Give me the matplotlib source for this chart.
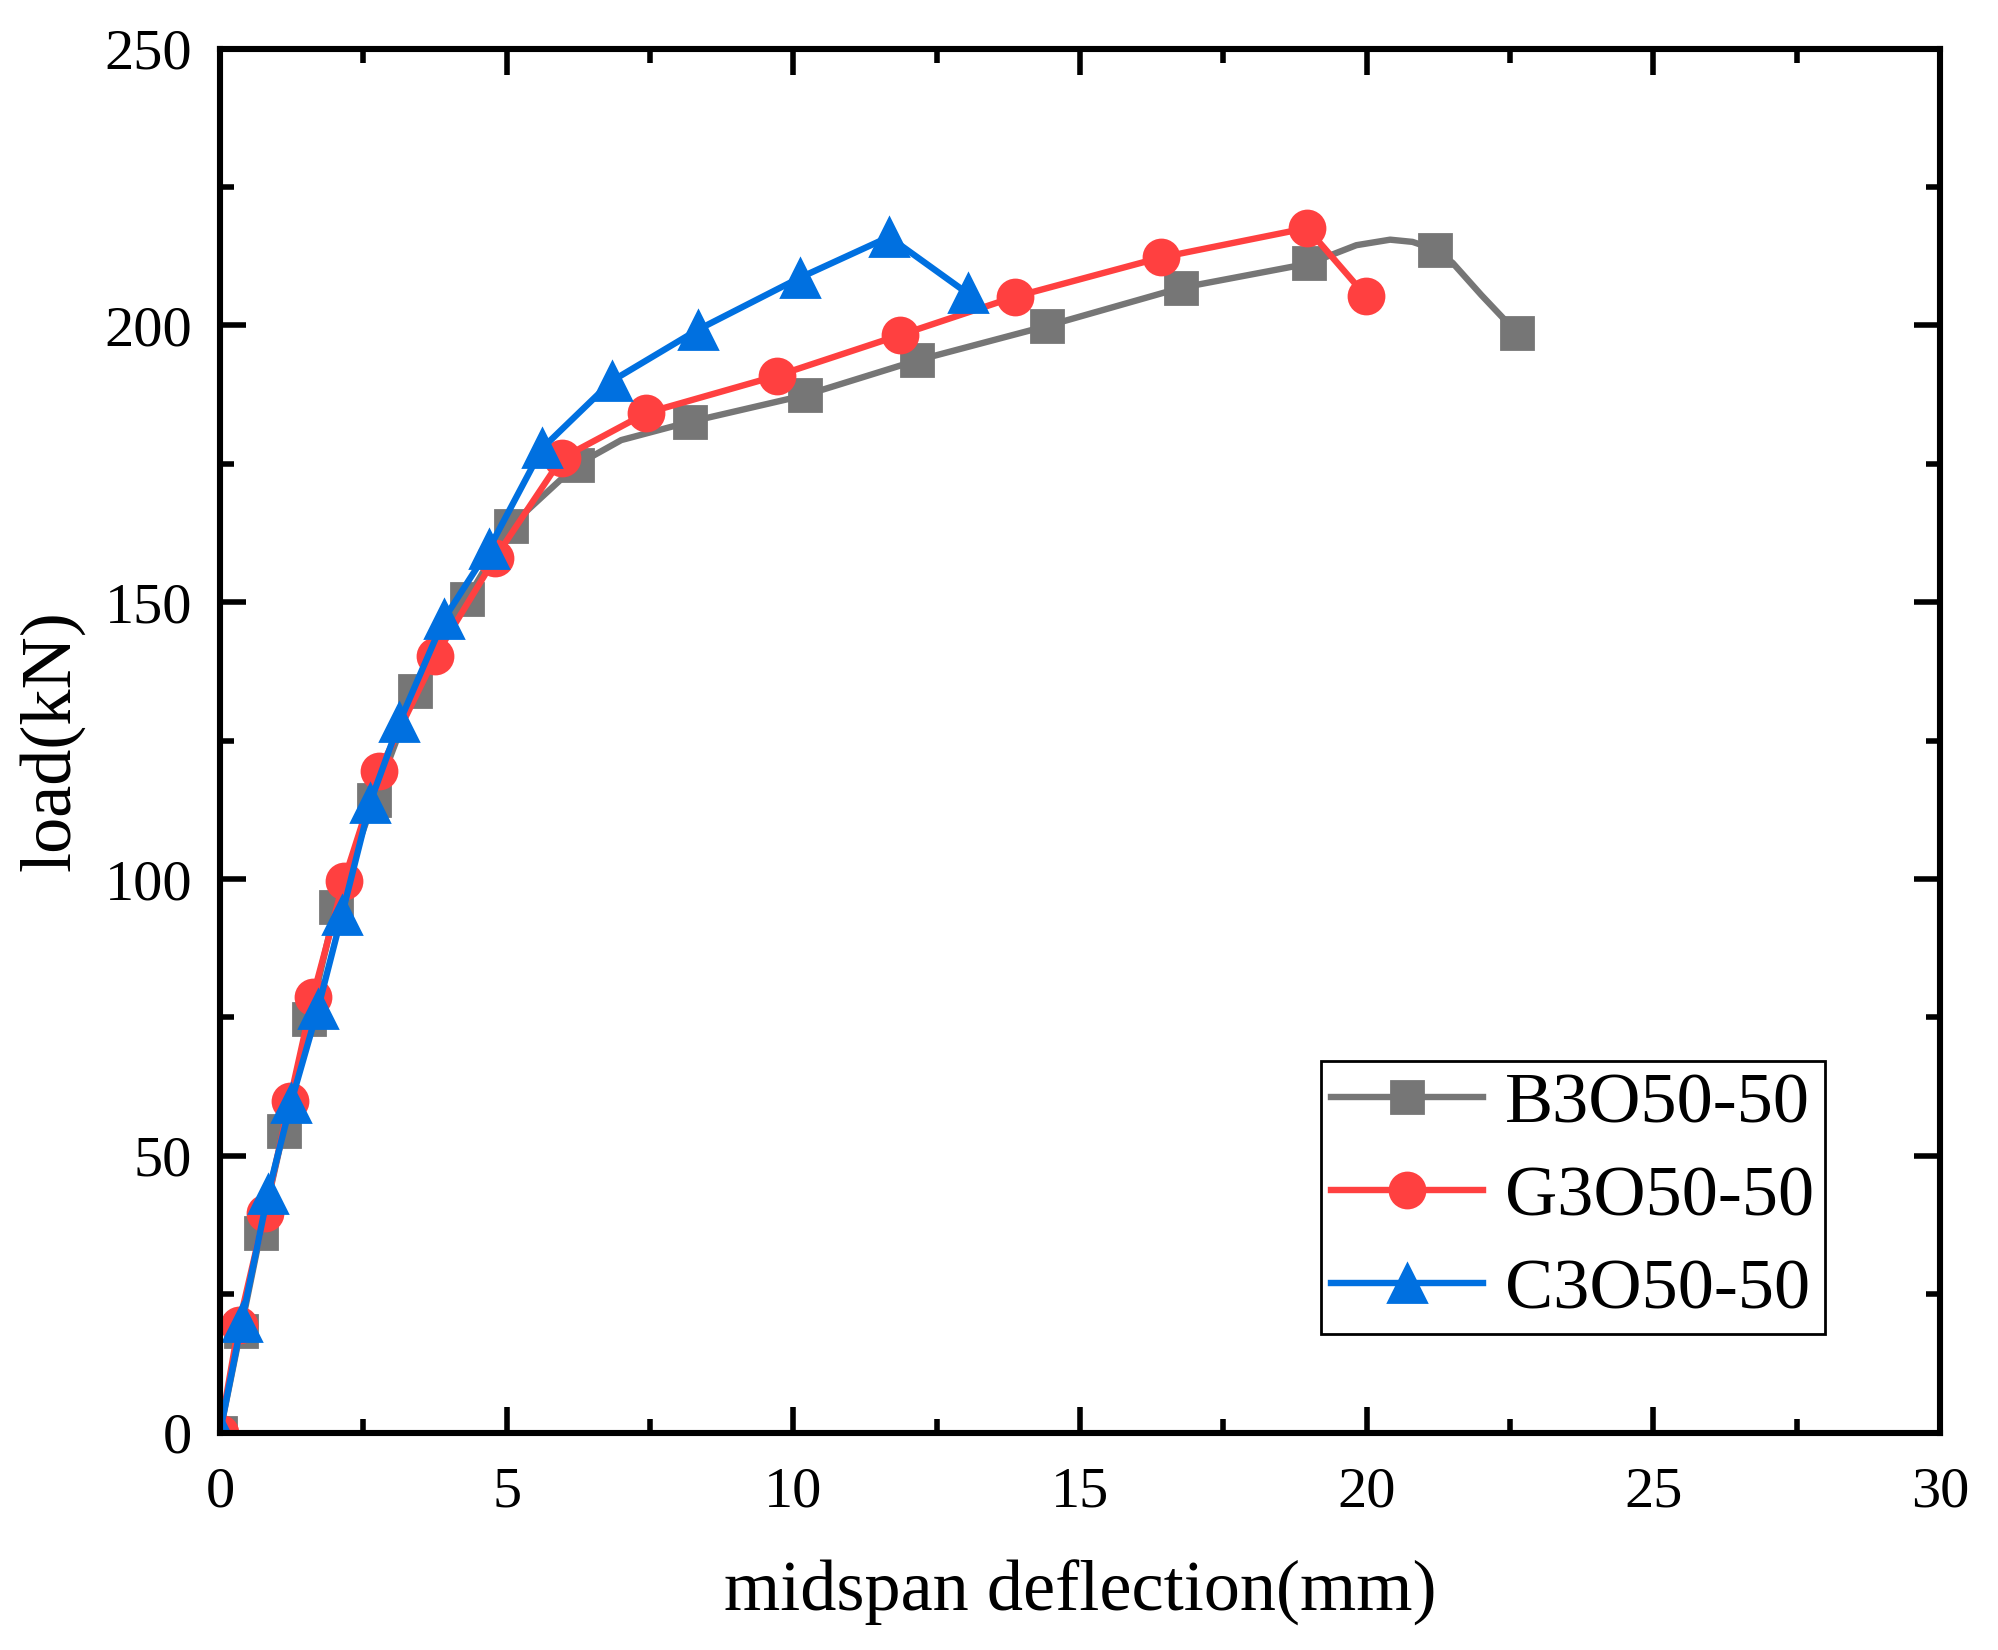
import matplotlib
matplotlib.use('Agg')
import matplotlib.pyplot as plt
from matplotlib.ticker import MultipleLocator

plt.rcParams['font.family'] = 'serif'
plt.rcParams['font.serif'] = ['Liberation Serif', 'DejaVu Serif']

# B3O50-50 (grey squares); a few extra unmarked points shape the smooth line
b_x = [0, 0.36, 0.71, 1.11, 1.56, 2.02, 2.69, 3.40, 4.31, 5.07, 6.22, 7.0, 8.20,
       10.20, 12.16, 14.42, 16.76, 19.0, 19.82, 20.41, 20.8, 21.2, 21.5, 22.0, 22.62]
b_y = [0, 18.4, 36.1, 54.5, 74.7, 95.0, 114.3, 133.9, 150.6, 163.8, 174.8, 179.3, 182.6,
       187.4, 193.7, 199.9, 206.8, 211.2, 214.5, 215.5, 215.1, 213.7, 211.3, 205.5, 198.7]
b_marked = [0, 1, 2, 3, 4, 5, 6, 7, 8, 9, 10, 12, 13, 14, 15, 16, 17, 21, 24]

# G3O50-50 (red circles)
g_x = [0, 0.33, 0.78, 1.22, 1.62, 2.16, 2.78, 3.76, 4.80, 5.96, 7.44, 9.71,
       11.87, 13.87, 16.42, 18.96, 19.98]
g_y = [0, 19.5, 39.6, 60.0, 78.7, 99.6, 119.6, 140.3, 158.0, 176.0, 184.2, 190.9,
       198.3, 205.2, 212.3, 217.6, 205.4]

# C3O50-50 (blue triangles)
c_x = [0, 0.38, 0.84, 1.24, 1.71, 2.13, 2.62, 3.13, 3.91, 4.69, 5.62, 6.84,
       8.33, 10.11, 11.67, 13.04]
c_y = [0, 20.0, 43.2, 59.6, 76.6, 93.6, 113.8, 128.3, 147.0, 159.6, 177.8, 190.0,
       199.2, 208.6, 216.0, 205.8]

fig = plt.figure(figsize=(9.995, 8.25), dpi=200)
ax = fig.add_axes([0.110, 0.1317, 0.8605, 0.8388])

ax.plot(b_x, b_y, color='#767676', lw=2.3, marker='s', ms=11.5, markevery=b_marked,
        label='B3O50-50')
ax.plot(g_x, g_y, color='#FF4040', lw=2.3, marker='o', ms=12.6, label='G3O50-50')
ax.plot(c_x, c_y, color='#0070E0', lw=2.3, marker='^', ms=13.5, label='C3O50-50')

ax.set_xlim(0, 30)
ax.set_ylim(0, 250)
ax.xaxis.set_major_locator(MultipleLocator(5))
ax.xaxis.set_minor_locator(MultipleLocator(2.5))
ax.yaxis.set_major_locator(MultipleLocator(50))
ax.yaxis.set_minor_locator(MultipleLocator(25))
ax.tick_params(which='both', direction='in', top=True, right=True, width=2.0,
               labelsize=21)
ax.tick_params(which='major', length=9.5)
ax.tick_params(which='minor', length=5)
ax.tick_params(axis='x', pad=12)
ax.tick_params(axis='y', pad=10)
for s in ax.spines.values():
    s.set_linewidth(2.2)

ax.set_xlabel('midspan deflection(mm)', fontsize=26, labelpad=15)
ax.set_ylabel('load(kN)', fontsize=26, labelpad=7)

leg = ax.legend(loc='lower right', bbox_to_anchor=(0.933, 0.071), fontsize=26,
                fancybox=False, framealpha=1, edgecolor='black',
                handlelength=2.1, handletextpad=0.3, labelspacing=0.38,
                borderpad=0.15, borderaxespad=0)
leg.get_frame().set_linewidth(1.0)

fig.savefig('out.png', dpi=200)
